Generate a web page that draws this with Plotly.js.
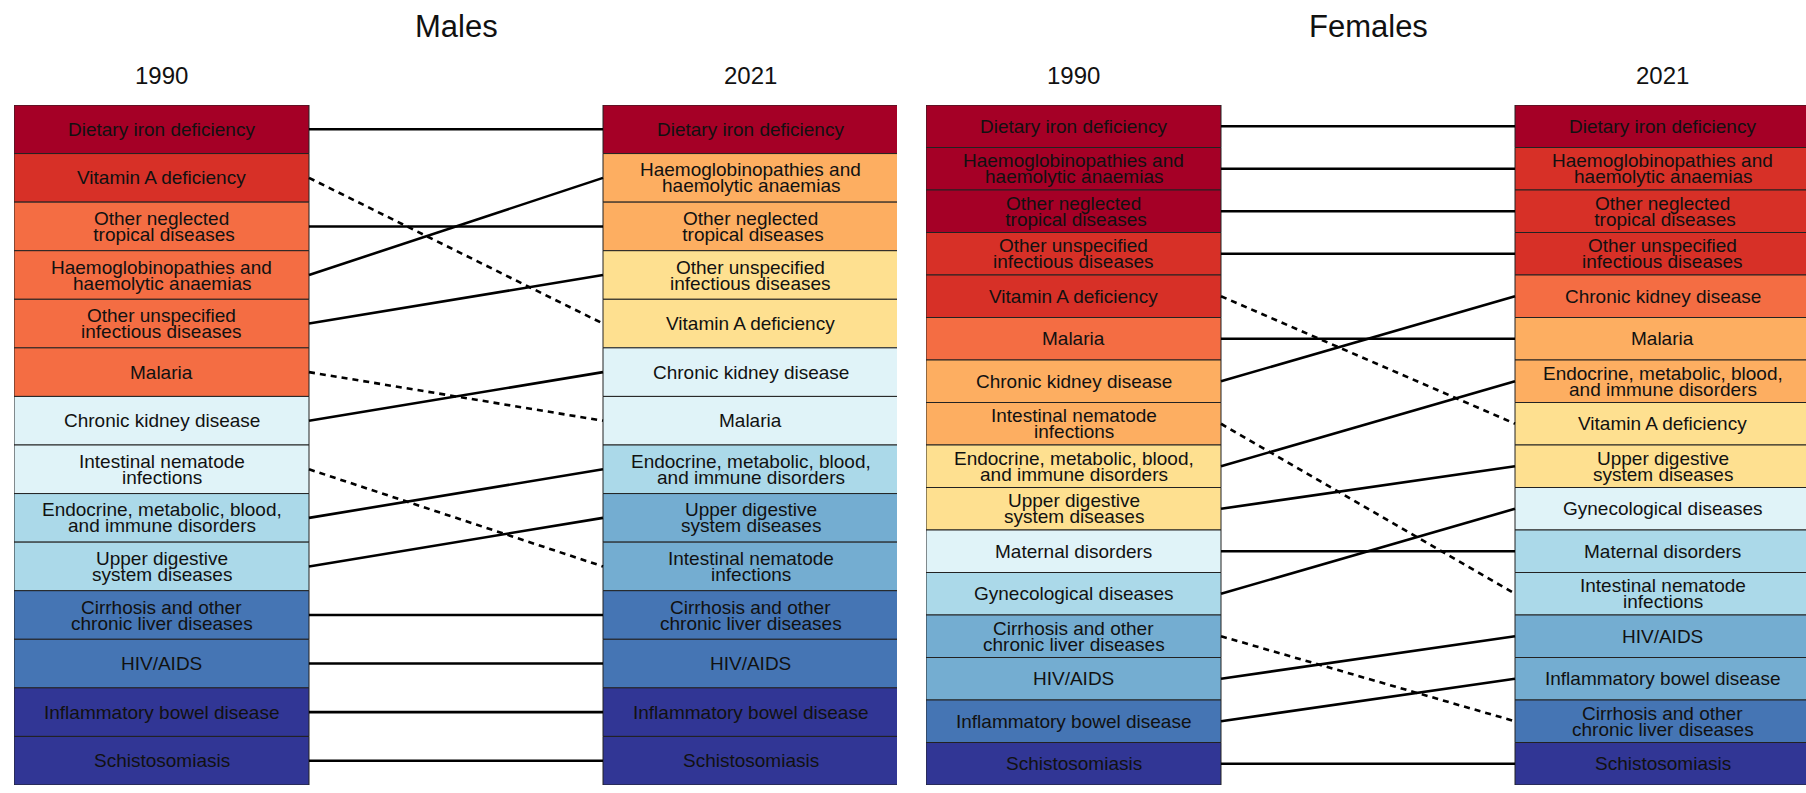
<!DOCTYPE html>
<html>
<head>
<meta charset="utf-8">
<script src="https://cdn.plot.ly/plotly-3.0.1.min.js"></script>
<style>html,body{margin:0;padding:0;background:#fff;}#chart{width:1806px;height:793px;}</style>
</head>
<body>
<div id="chart"></div>
<script>
// ---- data ----
var panelTitles = ["Males", "Females"];
var yearLabels = ["1990", "2021"];

var male1990 = ["Dietary iron deficiency", "Vitamin A deficiency", "Other neglected<br> tropical diseases",
  "Haemoglobinopathies and<br>haemolytic anaemias", "Other unspecified<br>infectious diseases", "Malaria",
  "Chronic kidney disease", "Intestinal nematode<br>infections", "Endocrine, metabolic, blood,<br>and immune disorders",
  "Upper digestive<br>system diseases", "Cirrhosis and other<br>chronic liver diseases", "HIV/AIDS",
  "Inflammatory bowel disease", "Schistosomiasis"];
var male2021 = ["Dietary iron deficiency", "Haemoglobinopathies and<br>haemolytic anaemias", "Other neglected<br> tropical diseases",
  "Other unspecified<br>infectious diseases", "Vitamin A deficiency", "Chronic kidney disease", "Malaria",
  "Endocrine, metabolic, blood,<br>and immune disorders", "Upper digestive<br>system diseases", "Intestinal nematode<br>infections",
  "Cirrhosis and other<br>chronic liver diseases", "HIV/AIDS", "Inflammatory bowel disease", "Schistosomiasis"];
var female1990 = ["Dietary iron deficiency", "Haemoglobinopathies and<br>haemolytic anaemias", "Other neglected<br> tropical diseases",
  "Other unspecified<br>infectious diseases", "Vitamin A deficiency", "Malaria", "Chronic kidney disease",
  "Intestinal nematode<br>infections", "Endocrine, metabolic, blood,<br>and immune disorders", "Upper digestive<br>system diseases",
  "Maternal disorders", "Gynecological diseases", "Cirrhosis and other<br>chronic liver diseases", "HIV/AIDS",
  "Inflammatory bowel disease", "Schistosomiasis"];
var female2021 = ["Dietary iron deficiency", "Haemoglobinopathies and<br>haemolytic anaemias", "Other neglected<br> tropical diseases",
  "Other unspecified<br>infectious diseases", "Chronic kidney disease", "Malaria", "Endocrine, metabolic, blood,<br>and immune disorders",
  "Vitamin A deficiency", "Upper digestive<br>system diseases", "Gynecological diseases", "Maternal disorders",
  "Intestinal nematode<br>infections", "HIV/AIDS", "Inflammatory bowel disease", "Cirrhosis and other<br>chronic liver diseases",
  "Schistosomiasis"];

// colour class (0 = highest .. 9 = lowest) for each box
var maleClass1990 = [0, 1, 2, 2, 2, 2, 5, 5, 6, 6, 8, 8, 9, 9];
var maleClass2021 = [0, 3, 3, 4, 4, 5, 5, 6, 7, 7, 8, 8, 9, 9];
var femaleClass1990 = [0, 0, 0, 1, 1, 2, 3, 3, 4, 4, 5, 6, 7, 7, 8, 9];
var femaleClass2021 = [0, 1, 1, 1, 2, 3, 3, 4, 4, 5, 6, 6, 7, 7, 8, 9];

var palette = ["#A50026", "#D73027", "#F46D43", "#FDAE61", "#FEE090", "#E0F3F8", "#ABD9E9", "#74ADD1", "#4575B4", "#313695"];

// ---- layout constants ----
var W = 1806, H = 793;
var boxW = 295, gapW = 294;
var colX = [boxW / 2, boxW + gapW + boxW / 2];
var topPx = 105, botPx = 785;
var panels = [
  {l1990: male1990, l2021: male2021, c1990: maleClass1990, c2021: maleClass2021, x0: 14, x1: 897, xa: "x", ya: "y"},
  {l1990: female1990, l2021: female2021, c1990: femaleClass1990, c2021: femaleClass2021, x0: 926, x1: 1806, xa: "x2", ya: "y2"}
];

var traces = [], annotations = [];
var layout = {
  width: W, height: H, margin: {l: 0, r: 0, t: 0, b: 0},
  paper_bgcolor: "#fff", plot_bgcolor: "#fff", showlegend: false,
  barmode: "overlay", bargap: 0,
  font: {family: "Liberation Sans, Arial, sans-serif", color: "#111"},
  annotations: annotations
};

function key(s) { return s.replace(/<br>\s*/g, " ").trim(); }

panels.forEach(function (p, pi) {
  var n = p.l1990.length;
  var sfx = pi === 0 ? "" : "2";
  layout["xaxis" + sfx] = {domain: [p.x0 / W, p.x1 / W], range: [0, p.x1 - p.x0], visible: false, fixedrange: true, anchor: "y" + sfx};
  layout["yaxis" + sfx] = {domain: [1 - botPx / H, 1 - topPx / H], range: [n, 0], visible: false, fixedrange: true, anchor: "x" + sfx};

  [[p.l1990, p.c1990], [p.l2021, p.c2021]].forEach(function (col, ci) {
    var labels = col[0], cls = col[1];
    traces.push({
      type: "bar", xaxis: p.xa, yaxis: p.ya,
      x: labels.map(function () { return colX[ci]; }),
      y: labels.map(function () { return 1; }),
      base: labels.map(function (_, i) { return i; }),
      width: boxW,
      marker: {color: cls.map(function (c) { return palette[c]; }), line: {color: "#222", width: 1}},
      hoverinfo: "skip"
    });
    labels.forEach(function (lab, i) {
      var lines = lab.split("<br>");
      lines.forEach(function (ln, k) {
        annotations.push({
          xref: p.xa, yref: p.ya, x: colX[ci], y: i + 0.5,
          text: ln, showarrow: false, xanchor: "center", yanchor: "middle",
          yshift: ((lines.length - 1) / 2 - k) * 16,
          font: {size: 19, color: "#111"}
        });
      });
    });
    annotations.push({
      xref: p.xa, yref: "paper", x: colX[ci], y: 1 - 75 / H,
      text: yearLabels[ci], showarrow: false, xanchor: "center", yanchor: "middle",
      font: {size: 24, color: "#111"}
    });
  });

  // connecting lines
  p.l1990.forEach(function (lab, i) {
    var j = p.l2021.map(key).indexOf(key(lab));
    if (j < 0) return;
    traces.push({
      type: "scatter", mode: "lines", xaxis: p.xa, yaxis: p.ya,
      x: [boxW, boxW + gapW], y: [i + 0.5, j + 0.5],
      line: {color: "#000", width: 2.6, dash: j > i ? "6px,5px" : "solid"},
      hoverinfo: "skip", cliponaxis: false
    });
  });

  annotations.push({
    xref: "paper", yref: "paper", x: ((p.x0 + p.x0 + 2 * boxW + gapW) / 2) / W, y: 1 - 27 / H,
    text: panelTitles[pi], showarrow: false, xanchor: "center", yanchor: "middle",
    font: {size: 31, color: "#111"}
  });
});

Plotly.newPlot("chart", traces, layout, {displayModeBar: false, staticPlot: true});
</script>
</body>
</html>
